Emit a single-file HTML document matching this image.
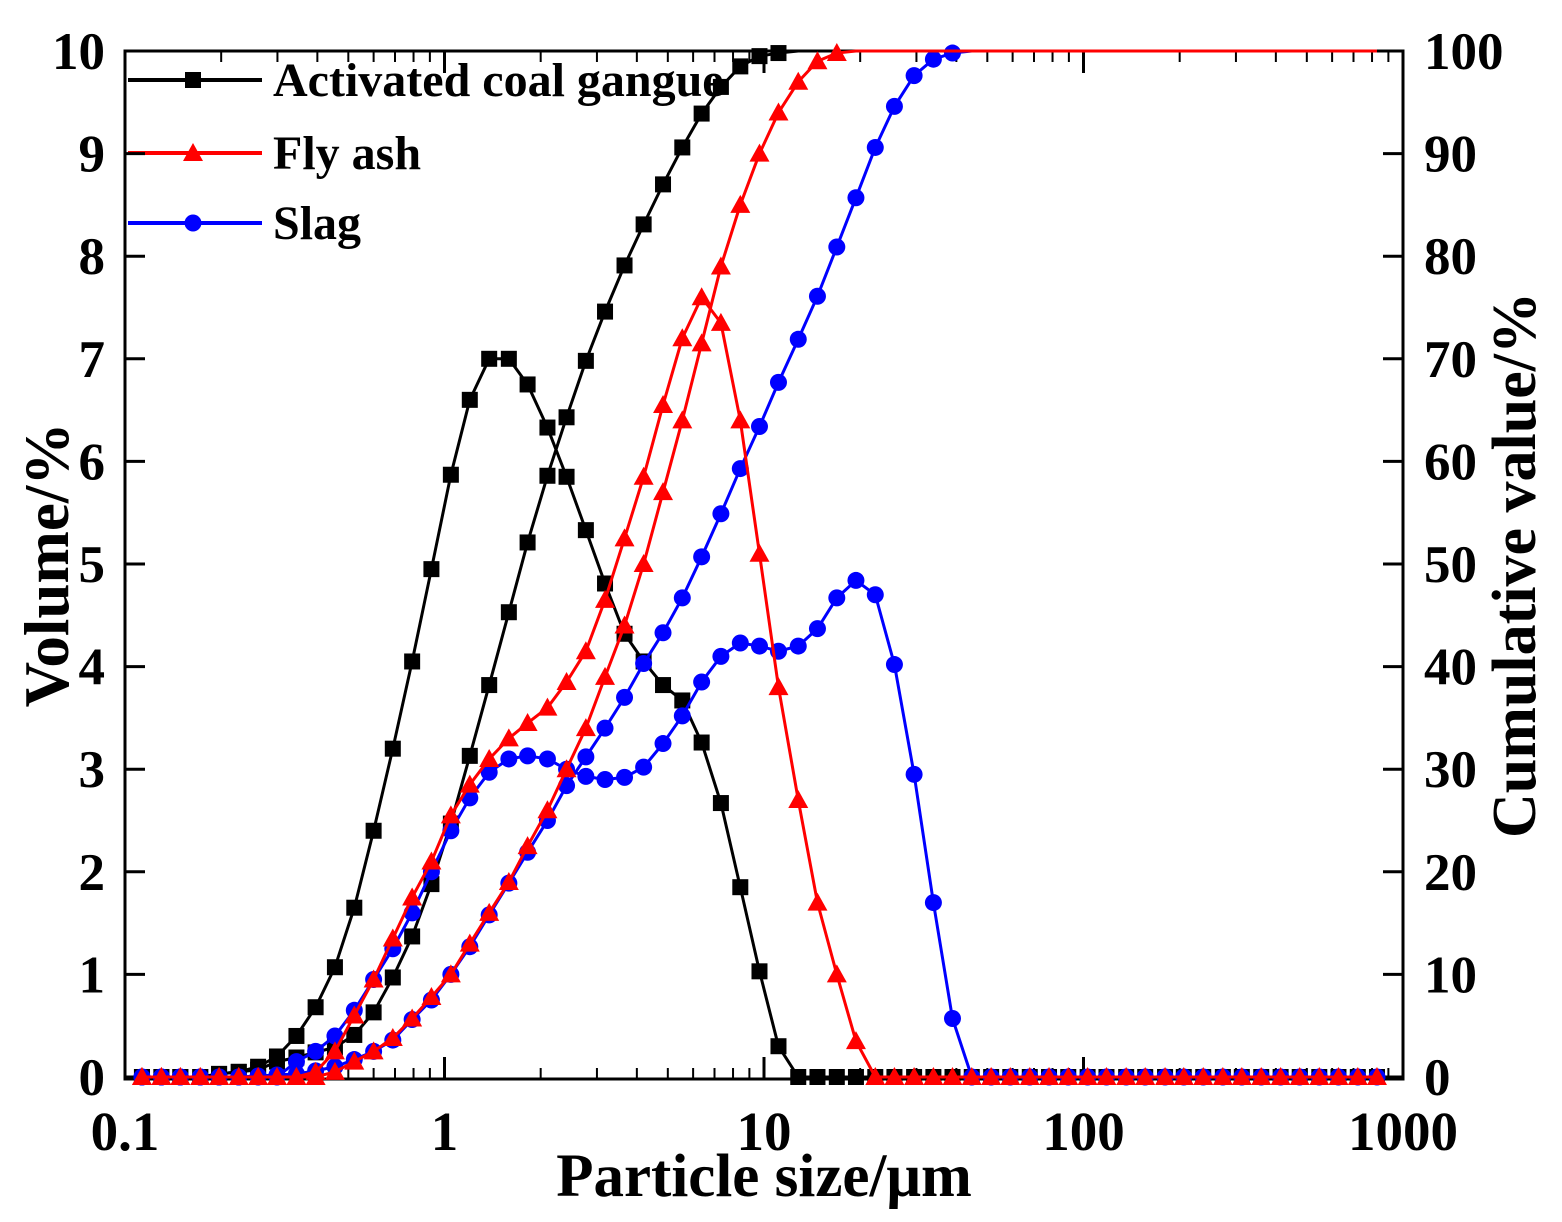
<!DOCTYPE html>
<html><head><meta charset="utf-8">
<style>
body{margin:0;background:#fff;}
svg{display:block;font-family:"Liberation Serif",serif;font-weight:bold;}
</style></head>
<body>
<svg id="chart" width="1562" height="1222" viewBox="0 0 1562 1222" xmlns="http://www.w3.org/2000/svg"></svg>
<script>
const sizes=[0.113,0.130,0.149,0.172,0.197,0.227,0.261,0.299,0.344,0.395,0.454,0.522,0.600,0.689,0.792,0.910,1.047,1.20,1.38,1.59,1.82,2.10,2.41,2.77,3.18,3.66,4.20,4.83,5.55,6.38,7.33,8.43,9.68,11.1,12.8,14.7,16.9,19.4,22.3,25.6,29.5,33.9,38.9,44.7,51.4,59.0,67.9,78.0,89.6,103,118,136,156,180,206,237,273,313,360,414,475,547,628,722,829];
const blackVol=[0,0,0,0,0.03,0.05,0.1,0.2,0.4,0.68,1.07,1.65,2.4,3.2,4.05,4.95,5.87,6.6,7.0,7.0,6.75,6.33,5.85,5.33,4.81,4.32,4.05,3.82,3.67,3.26,2.67,1.85,1.03,0.3,0,0,0,0,0,0,0,0,0,0,0,0,0,0,0,0,0,0,0,0,0,0,0,0,0,0,0,0,0,0,0];
const blackCum=[0,0,0,0,0.3,0.5,0.7,1.5,1.9,2.4,2.9,4.1,6.3,9.7,13.7,18.8,24.7,31.3,38.2,45.3,52.1,58.6,64.3,69.8,74.6,79.1,83.1,87.0,90.6,93.9,96.5,98.5,99.5,99.8,100,100,100,100,100,100,100,100,100,100,100,100,100,100,100,100,100,100,100,100,100,100,100,100,100,100,100,100,100,100,100];
const redVol=[0,0,0,0,0,0,0,0,0,0.05,0.25,0.6,0.95,1.35,1.75,2.1,2.55,2.85,3.1,3.3,3.45,3.6,3.85,4.15,4.65,5.25,5.85,6.55,7.2,7.6,7.35,6.4,5.1,3.8,2.7,1.7,1.0,0.35,0,0,0,0,0,0,0,0,0,0,0,0,0,0,0,0,0,0,0,0,0,0,0,0,0,0,0];
const redCum=[0,0,0,0,0,0,0,0,0,0,0.5,1.5,2.5,3.8,5.7,7.8,10,13,16,19,22.5,26,30,34,39,44,50,57,64,71.5,79,85,90,94,97,99,99.8,100,100,100,100,100,100,100,100,100,100,100,100,100,100,100,100,100,100,100,100,100,100,100,100,100,100,100,100];
const blueVol=[0,0,0,0,0,0,0,0,0.15,0.25,0.4,0.65,0.95,1.25,1.6,2.0,2.4,2.72,2.97,3.1,3.13,3.1,3.0,2.93,2.9,2.92,3.02,3.25,3.52,3.85,4.1,4.23,4.2,4.15,4.2,4.37,4.67,4.84,4.7,4.02,2.95,1.7,0.57,0,0,0,0,0,0,0,0,0,0,0,0,0,0,0,0,0,0,0,0,0,0];
const blueCum=[0,0,0,0,0,0,0.1,0.2,0.3,0.6,1,1.7,2.5,3.6,5.6,7.5,10,12.7,15.8,18.9,21.9,25,28.4,31.2,34,37,40.3,43.3,46.7,50.7,54.9,59.3,63.4,67.7,71.9,76.1,80.9,85.7,90.6,94.6,97.6,99.2,99.8,100,100,100,100,100,100,100,100,100,100,100,100,100,100,100,100,100,100,100,100,100,100];
const xTicks=[0.1,1,10,100,1000];
const xTickLabels=["0.1","1","10","100","1000"];
const yTicks=[0,1,2,3,4,5,6,7,8,9,10];
const y2Ticks=[0,10,20,30,40,50,60,70,80,90,100];

const NS="http://www.w3.org/2000/svg";
const svg=document.getElementById('chart');
const X0=125,X1=1403,Y0=1077,Y1=51;
function xs(v){return X0+(Math.log10(v)+1)/4*(X1-X0);}
function ys(v){return Y0-(v/10)*(Y0-Y1);}
function ys2(v){return Y0-(v/100)*(Y0-Y1);}
function mk(tag,attrs,parent){const e=document.createElementNS(NS,tag);for(const k in attrs)e.setAttribute(k,attrs[k]);(parent||svg).appendChild(e);return e;}

// legend (drawn first so data overlaps it, like the reference)
const legend=[['Activated coal gangue','#000','square',80],['Fly ash','#ff0000','tri',153],['Slag','#0000ff','circle',223]];
legend.forEach(l=>{
  const g=mk('g',{});
  
  
  mk('line',{x1:128,x2:262,y1:l[3],y2:l[3],stroke:l[1],'stroke-width':4},g);
  marker(g,l[2],l[1],193,l[3]);
  const t=mk('text',{x:273,y:l[3]+16,'font-size':48},g);
  t.textContent=l[0];
});

const frame=mk('rect',{x:X0,y:Y1,width:X1-X0,height:1079-Y1,fill:'none',stroke:'#000','stroke-width':3});



xTicks.forEach((t,i)=>{
  const x=xs(t);
  const tk=mk('line',{x1:x,x2:x,y1:1079,y2:1057,stroke:'#000','stroke-width':3});
  
  
  const tt=mk('line',{x1:x,x2:x,y1:Y1,y2:Y1+22,stroke:'#000','stroke-width':3});
  
  
  const lb=mk('text',{x:x,y:1150,'font-size':55,'text-anchor':'middle'});
  lb.textContent=xTickLabels[i];
  
  
  if(i<xTicks.length-1){
    for(let m=2;m<=9;m++){
      const mx=xs(t*m);
      const mt=mk('line',{x1:mx,x2:mx,y1:1079,y2:1068,stroke:'#000','stroke-width':2});
      
      
      const mt2=mk('line',{x1:mx,x2:mx,y1:Y1,y2:Y1+11,stroke:'#000','stroke-width':2});
      
      
    }
  }
});
yTicks.forEach(t=>{
  const y=ys(t);
  const tk=mk('line',{x1:X0,x2:X0+20,y1:y,y2:y,stroke:'#000','stroke-width':3});
  
  
  const lb=mk('text',{x:105,y:y+18,'font-size':53,'text-anchor':'end'});
  lb.textContent=t;
  
  
});
y2Ticks.forEach(t=>{
  const y=ys2(t);
  const tk=mk('line',{x1:X1-20,x2:X1,y1:y,y2:y,stroke:'#000','stroke-width':3});
  
  
  const lb=mk('text',{x:1424,y:y+18,'font-size':53,'text-anchor':'start'});
  lb.textContent=t;
  
  
});

const xt=mk('text',{x:764,y:1196,'font-size':61,'text-anchor':'middle'});
xt.textContent='Particle size/μm';


const yt=mk('text',{x:0,y:0,'font-size':63,'text-anchor':'middle',transform:'translate(68,565) rotate(-90)'});
yt.textContent='Volume/%';


const y2t=mk('text',{x:0,y:0,'font-size':62,'text-anchor':'middle',transform:'translate(1535,565) rotate(-90)'});
y2t.textContent='Cumulative value/%';



function marker(g,type,color,x,y){
  let m;
  if(type==='square') m=mk('rect',{x:x-8,y:y-8,width:16,height:16,fill:color},g);
  else if(type==='tri') m=mk('polygon',{points:`${x},${y-10} ${x+10},${y+8} ${x-10},${y+8}`,fill:color},g);
  else m=mk('circle',{cx:x,cy:y,r:8.5,fill:color},g);
  return m;
}
function series(name,vals,scale,color,type,cum){
  const g=mk('g',{});
  
  
  const pts=vals.map((v,i)=>[xs(sizes[i]),scale(v)]);
  const pl=mk('polyline',{points:pts.map(p=>p.join(',')).join(' '),fill:'none',stroke:color,'stroke-width':3},g);
  
  
  pts.forEach((p,i)=>{
    if(cum && vals[i]>=100 && i>0 && vals[i-1]>=99.5) return;
    const m=marker(g,type,color,p[0],p[1]);
    
    
  });
}
series('coal-gangue-volume',blackVol,ys,'#000','square',false);
series('coal-gangue-cumulative',blackCum,ys2,'#000','square',true);
series('slag-volume',blueVol,ys,'#0000ff','circle',false);
series('slag-cumulative',blueCum,ys2,'#0000ff','circle',true);
series('fly-ash-volume',redVol,ys,'#ff0000','tri',false);
series('fly-ash-cumulative',redCum,ys2,'#ff0000','tri',true);
</script>
</body></html>
